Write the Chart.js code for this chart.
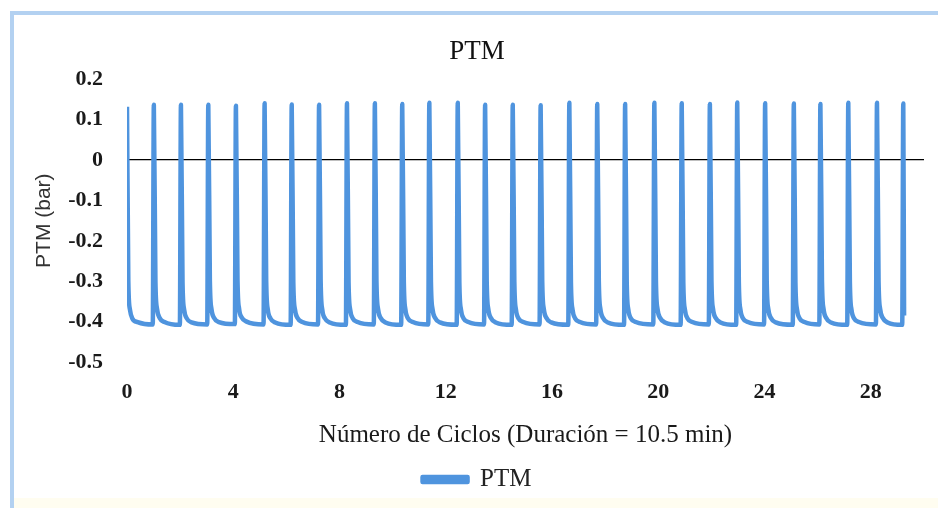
<!DOCTYPE html>
<html>
<head>
<meta charset="utf-8">
<script src="https://cdn.jsdelivr.net/npm/chart.js@4/dist/chart.umd.min.js"></script>
<style>
  html, body { margin: 0; padding: 0; background: #fff; overflow: hidden; }
  #wrap { position: absolute; left: 0; top: 0; width: 938px; height: 508px; }
  #frame { position: absolute; left: 10px; top: 11px; width: 960px; height: 540px;
    border-top: 4px solid #b3d1f1; border-left: 4px solid #b3d1f1; pointer-events: none; }
  #foot { position: absolute; left: 14px; right: 0; bottom: 0; height: 10px; background: #fffdf0; }
</style>
</head>
<body>
<div id="wrap">
  <div id="foot"></div>
  <canvas id="ptmChart" width="938" height="508"></canvas>
  <div id="frame"></div>
</div>
<script>
// cycle number of each sample
const cycleX = [
  0, 0.05, 0.11, 0.2, 0.4,
  0.97, 1.01, 1.07, 1.13, 1.23, 1.41,
  1.99, 2.03, 2.09, 2.15, 2.25, 2.43,
  3.02, 3.06, 3.12, 3.18, 3.28, 3.46,
  4.06, 4.10, 4.16, 4.22, 4.32, 4.50,
  5.14, 5.18, 5.24, 5.30, 5.40, 5.58,
  6.16, 6.20, 6.26, 6.32, 6.42, 6.60,
  7.19, 7.23, 7.29, 7.35, 7.45, 7.63,
  8.24, 8.28, 8.34, 8.40, 8.50, 8.68,
  9.29, 9.33, 9.39, 9.45, 9.55, 9.73,
  10.32, 10.36, 10.42, 10.48, 10.58, 10.76,
  11.34, 11.38, 11.44, 11.50, 11.60, 11.78,
  12.41, 12.45, 12.51, 12.57, 12.67, 12.85,
  13.44, 13.48, 13.54, 13.60, 13.70, 13.88,
  14.48, 14.52, 14.58, 14.64, 14.74, 14.92,
  15.53, 15.57, 15.63, 15.69, 15.79, 15.97,
  16.61, 16.65, 16.71, 16.77, 16.87, 17.05,
  17.66, 17.70, 17.76, 17.82, 17.92, 18.10,
  18.71, 18.75, 18.81, 18.87, 18.97, 19.15,
  19.81, 19.85, 19.91, 19.97, 20.07, 20.25,
  20.84, 20.88, 20.94, 21.00, 21.10, 21.28,
  21.90, 21.94, 22.00, 22.06, 22.16, 22.34,
  22.93, 22.97, 23.03, 23.09, 23.19, 23.37,
  23.98, 24.02, 24.08, 24.14, 24.24, 24.42,
  25.06, 25.10, 25.16, 25.22, 25.32, 25.50,
  26.06, 26.10, 26.16, 26.22, 26.32, 26.50,
  27.11, 27.15, 27.21, 27.27, 27.37, 27.55,
  28.19, 28.23, 28.29, 28.35, 28.45, 28.63,
  29.18, 29.22, 29.25,
];

// PTM in bar
const ptmBar = [
  0.132, -0.300, -0.370, -0.392, -0.401,
  -0.407, 0.137, -0.300, -0.368, -0.391, -0.401,
  -0.408, 0.137, -0.302, -0.370, -0.392, -0.402,
  -0.407, 0.137, -0.300, -0.369, -0.391, -0.401,
  -0.406, 0.135, -0.298, -0.368, -0.390, -0.400,
  -0.407, 0.141, -0.300, -0.370, -0.392, -0.402,
  -0.408, 0.138, -0.301, -0.369, -0.391, -0.401,
  -0.407, 0.137, -0.300, -0.370, -0.392, -0.402,
  -0.408, 0.141, -0.302, -0.370, -0.392, -0.401,
  -0.407, 0.141, -0.300, -0.369, -0.391, -0.402,
  -0.408, 0.139, -0.301, -0.370, -0.392, -0.401,
  -0.407, 0.142, -0.300, -0.369, -0.391, -0.402,
  -0.408, 0.142, -0.302, -0.370, -0.392, -0.401,
  -0.407, 0.137, -0.300, -0.369, -0.391, -0.402,
  -0.408, 0.137, -0.301, -0.370, -0.392, -0.401,
  -0.407, 0.136, -0.300, -0.369, -0.391, -0.402,
  -0.408, 0.142, -0.302, -0.370, -0.392, -0.401,
  -0.407, 0.139, -0.300, -0.369, -0.391, -0.402,
  -0.408, 0.139, -0.301, -0.370, -0.392, -0.401,
  -0.407, 0.142, -0.300, -0.369, -0.391, -0.402,
  -0.408, 0.141, -0.302, -0.370, -0.392, -0.401,
  -0.407, 0.139, -0.300, -0.369, -0.391, -0.402,
  -0.408, 0.143, -0.301, -0.370, -0.392, -0.401,
  -0.407, 0.141, -0.300, -0.369, -0.391, -0.402,
  -0.408, 0.140, -0.302, -0.370, -0.392, -0.401,
  -0.407, 0.139, -0.300, -0.369, -0.391, -0.402,
  -0.408, 0.142, -0.301, -0.370, -0.392, -0.401,
  -0.407, 0.142, -0.300, -0.369, -0.391, -0.402,
  -0.408, 0.140, -0.385,
];

const xTickStep = 4;
const yTicks = { min: -0.5, max: 0.2, step: 0.1 };
const xRange = { min: 0, max: 30 };

const lineBlue = '#4f94de';
const serif = '"Liberation Serif", "Times New Roman", serif';

const ctx = document.getElementById('ptmChart').getContext('2d');
new Chart(ctx, {
  type: 'line',
  data: {
    datasets: [{
      label: 'PTM',
      data: cycleX.map((x, i) => ({ x, y: ptmBar[i] })),
      borderColor: lineBlue,
      backgroundColor: lineBlue,
      borderWidth: 4.5,
      pointRadius: 0,
      cubicInterpolationMode: 'monotone',
      borderJoinStyle: 'round',
    }],
  },
  options: {
    responsive: false,
    animation: false,
    devicePixelRatio: 1,
    layout: { padding: { left: 30, right: 14, top: 0, bottom: 6 } },
    plugins: {
      title: {
        display: true,
        text: 'PTM',
        color: '#111',
        font: { family: serif, size: 27, weight: 'normal' },
        padding: { top: 36, bottom: 11 },
      },
      legend: {
        position: 'bottom',
        labels: {
          color: '#222',
          boxWidth: 45,
          boxHeight: 5,
          padding: 10,
          font: { family: serif, size: 25 },
        },
      },
      tooltip: { enabled: false },
    },
    scales: {
      x: {
        type: 'linear',
        min: xRange.min,
        max: xRange.max,
        border: { display: false },
        grid: { display: false, drawTicks: false },
        ticks: {
          stepSize: xTickStep,
          includeBounds: false,
          padding: 17,
          color: '#1a1a1a',
          font: { family: serif, size: 22, weight: 'bold' },
        },
        title: {
          display: true,
          text: 'Número de Ciclos (Duración = 10.5 min)',
          color: '#1a1a1a',
          font: { family: serif, size: 25 },
          padding: { top: 0, bottom: 7 },
        },
        afterFit: (s) => { s.height = 95; },
      },
      y: {
        min: yTicks.min,
        max: yTicks.max,
        border: { display: false },
        grid: {
          drawTicks: false,
          lineWidth: 1.3,
          color: (c) => (c.tick && Math.abs(c.tick.value) < 1e-9 ? '#000' : 'rgba(0,0,0,0)'),
        },
        ticks: {
          stepSize: yTicks.step,
          padding: 24,
          color: '#1a1a1a',
          font: { family: serif, size: 22, weight: 'bold' },
          callback: (v) => String(Number(v.toFixed(1)) || 0),
        },
        title: {
          display: true,
          text: 'PTM (bar)',
          color: '#333',
          font: { family: '"Liberation Sans", Arial, sans-serif', size: 21 },
          padding: { top: 2, bottom: 0 },
        },
        afterFit: (s) => { s.width = 97; },
      },
    },
  },
});
</script>
</body>
</html>
